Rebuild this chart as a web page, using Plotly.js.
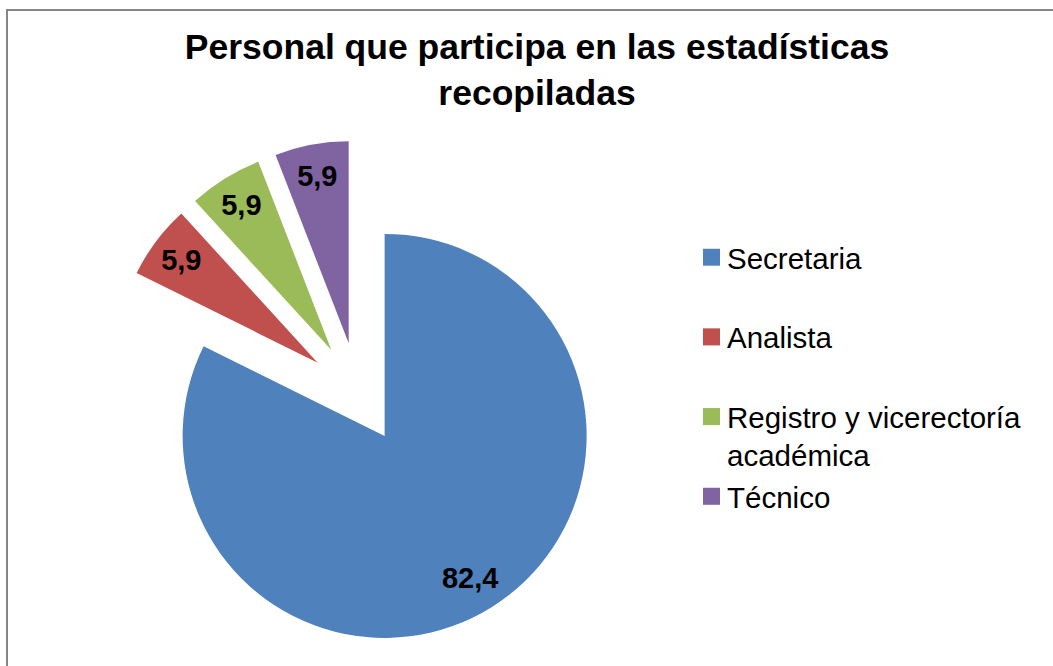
<!DOCTYPE html>
<html>
<head>
<meta charset="utf-8">
<script src="https://cdn.plot.ly/plotly-3.0.1.min.js"></script>
<style>
html,body{margin:0;padding:0;background:#fff;}
#wrap{position:relative;width:1053px;height:666px;overflow:hidden;}
#chart{width:1053px;height:666px;}
#frame{position:absolute;left:6px;top:9px;width:1100px;height:700px;border-top:2px solid #868686;border-left:2px solid #868686;pointer-events:none;}
</style>
</head>
<body>
<div id="wrap">
<div id="chart"></div>
<div id="frame"></div>
</div>
<script>
const categories = ["Secretaria", "Analista", "Registro y vicerectoría<br>académica", "Técnico"];
const values = [82.4, 5.9, 5.9, 5.9];
const colors = ["#4F81BD", "#C0504D", "#9BBB59", "#8064A2"];
const titleText = "Personal que participa en las estadísticas<br>recopiladas";

// legend labels: pad single-line entries with a blank line so entries are evenly spaced
const legendLabels = categories.map((c, i) =>
  (c.indexOf("<br>") === -1 && i < categories.length - 1) ? c + "<br>\u00a0" : c);

// label templates (the large slice's label is pushed outward as in the reference)
const NB = "\u00a0";
const textTemplates = values.map((v, i) =>
  i === 0 ? (NB + "<br>" + NB + "<br>" + NB + "<br>" + NB.repeat(8) + "%{value:.1f}") : "%{value:.1f}");

const trace = {
  type: "pie",
  labels: legendLabels,
  values: values,
  sort: false,
  direction: "clockwise",
  rotation: 0,
  pull: values.map(() => 0.25),
  marker: {colors: colors, line: {width: 0}},
  texttemplate: textTemplates,
  textposition: "inside",
  insidetextorientation: "horizontal",
  textfont: {family: "Liberation Sans, Arial, sans-serif", size: 29, color: "#000000", weight: "bold"},
  hoverinfo: "label+value",
  domain: {x: [105.5/1053, 610.5/1053], y: [1 - 645.5/666, 1 - 140.5/666]}
};

const layout = {
  width: 1053,
  height: 666,
  margin: {l: 0, r: 0, t: 0, b: 0},
  paper_bgcolor: "#ffffff",
  separators: ",.",
  uniformtext: {minsize: 29, mode: "show"},
  font: {family: "Liberation Sans, Arial, sans-serif", color: "#000000"},
  title: {
    text: titleText,
    font: {family: "Liberation Sans, Arial, sans-serif", size: 35.5, color: "#000000", weight: "bold"},
    x: 537/1053, xanchor: "center", xref: "paper",
    y: 1 - 59/666, yanchor: "top", yref: "container"
  },
  showlegend: true,
  legend: {
    x: 687/1053, xanchor: "left",
    y: 1 - 231.5/666, yanchor: "top",
    valign: "top",
    font: {family: "Liberation Sans, Arial, sans-serif", size: 29.5, color: "#000000"},
    bgcolor: "rgba(0,0,0,0)",
    traceorder: "normal"
  }
};

Plotly.newPlot("chart", [trace], layout, {displayModeBar: false, staticPlot: true}).then(() => {
  document.querySelectorAll(".legendpoints path").forEach(p => {
    p.setAttribute("transform", "translate(24.5,0) scale(1.42)");
  });
});
</script>
</body>
</html>
